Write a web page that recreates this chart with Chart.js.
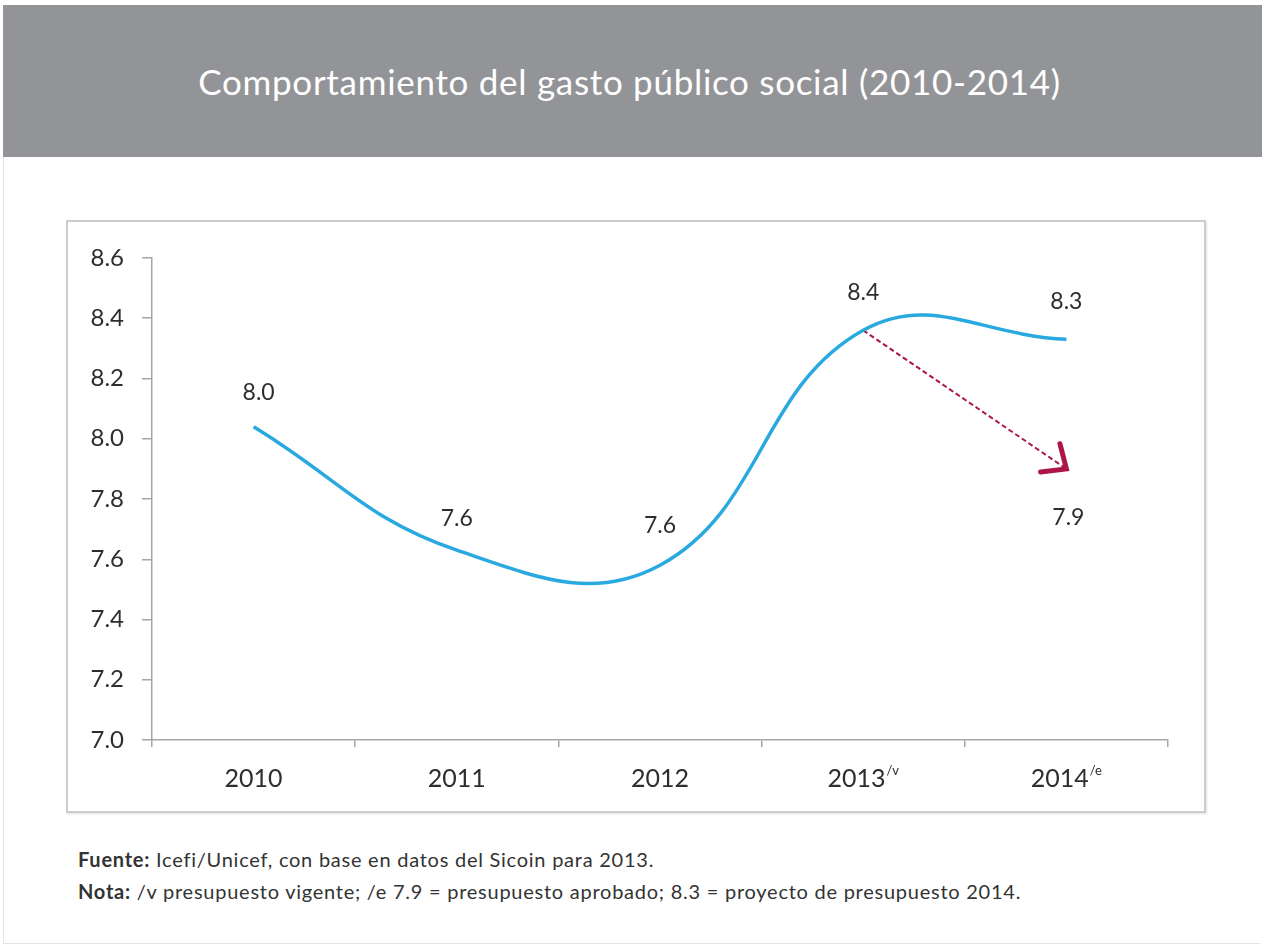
<!DOCTYPE html>
<html lang="es">
<head>
<meta charset="utf-8">
<title>Comportamiento del gasto público social (2010-2014)</title>
<script src="https://cdn.jsdelivr.net/npm/chart.js@4"></script>
<style>
    html, body {
        margin: 0;
        padding: 0;
        background: #ffffff;
    }
    body {
        width: 1262px;
        height: 947px;
        position: relative;
        overflow: hidden;
        font-family: Lato, "Open Sans", sans-serif;
    }
    .page {
        position: absolute;
        left: 3px;
        top: 5px;
        width: 1257px;
        height: 939px;
        border-left: 1px solid #e4e4e4;
        border-bottom: 1px solid #e4e4e4;
        box-sizing: border-box;
    }
    .header {
        position: absolute;
        left: 3px;
        top: 5px;
        width: 1259px;
        height: 152px;
        background: #939497;
        color: #ffffff;
        font-size: 35px;
        letter-spacing: 0.7px;
        line-height: 152px;
        text-align: center;
        box-sizing: border-box;
        padding-right: 6px;
    }
    .chart-box {
        position: absolute;
        left: 66px;
        top: 220px;
        width: 1140px;
        height: 593px;
        border: 2px solid #cdcdcd;
        box-sizing: border-box;
        box-shadow: 1px 1px 2px rgba(0, 0, 0, 0.12);
    }
    .chart-box canvas {
        position: absolute;
        left: 0;
        top: 0;
    }
    .notes {
        position: absolute;
        left: 78px;
        top: 843px;
        font-size: 20px;
        letter-spacing: 0.75px;
        line-height: 32px;
        color: #333333;
    }
</style>
</head>
<body>
<div class="page"></div>
<div class="header">Comportamiento del gasto público social (2010-2014)</div>
<div class="chart-box">
    <canvas id="gastoChart" width="1136" height="589"></canvas>
</div>
<div class="notes">
    <div><b>Fuente:</b> Icefi/Unicef, con base en datos del Sicoin para 2013.</div>
    <div><b>Nota:</b> /v presupuesto vigente; /e 7.9 = presupuesto aprobado; 8.3 = proyecto de presupuesto 2014.</div>
</div>

<script>
// años y sus marcas (/v vigente, /e estimado)
const years = ['2010', '2011', '2012', '2013', '2014'];
const yearMarks = ['', '', '', '/v', '/e'];

// gasto público social, % del PIB
const gastoSocial = [8.04, 7.63, 7.58, 8.36, 8.33];
// presupuesto aprobado 2014 (flecha desde 2013)
const presupuestoAprobado = [null, null, null, 8.36, 7.90];

const yTicks = [7.0, 7.2, 7.4, 7.6, 7.8, 8.0, 8.2, 8.4, 8.6];

const textColor = '#2e2e2e';
const axisColor = '#a6a6a6';
const lineColor = '#2aa9e0';
const arrowColor = '#ad1548';

// etiquetas de valor sobre cada punto, y la del presupuesto aprobado debajo de la flecha
const valueLabels = {
    id: 'valueLabels',
    afterDatasetsDraw(chart) {
        const ctx = chart.ctx;
        const x = chart.scales.x;
        const y = chart.scales.y;
        const offsets = [-34, -32, -40, -38, -38];
        ctx.save();
        ctx.font = '23px Lato, "Open Sans", sans-serif';
        ctx.fillStyle = textColor;
        ctx.textAlign = 'center';
        ctx.textBaseline = 'middle';
        gastoSocial.forEach((v, i) => {
            const px = x.getPixelForValue(i);
            const py = y.getPixelForValue(v);
            ctx.fillText(v.toFixed(1), px + (i === 0 ? 5 : 0), py + offsets[i]);
        });
        const last = presupuestoAprobado.length - 1;
        const tx = x.getPixelForValue(last);
        const ty = y.getPixelForValue(presupuestoAprobado[last]);
        ctx.fillText(presupuestoAprobado[last].toFixed(1), tx + 2, ty + 49);
        ctx.restore();
    }
};

// punta de flecha al final de la línea discontinua
const arrowHead = {
    id: 'arrowHead',
    afterDatasetsDraw(chart) {
        const meta = chart.getDatasetMeta(1);
        const pts = meta.data.filter(p => !p.skip);
        if (pts.length < 2) return;
        const a = pts[pts.length - 2];
        const b = pts[pts.length - 1];
        const ang = Math.atan2(b.y - a.y, b.x - a.x);
        const len = 26;
        const spread = 0.72;
        const ctx = chart.ctx;
        ctx.save();
        ctx.strokeStyle = arrowColor;
        ctx.lineWidth = 5;
        ctx.lineCap = 'round';
        ctx.lineJoin = 'miter';
        ctx.beginPath();
        ctx.moveTo(b.x - len * Math.cos(ang - spread), b.y - len * Math.sin(ang - spread));
        ctx.lineTo(b.x, b.y);
        ctx.lineTo(b.x - len * Math.cos(ang + spread), b.y - len * Math.sin(ang + spread));
        ctx.stroke();
        ctx.restore();
    }
};

// etiquetas del eje x con superíndice
const yearLabels = {
    id: 'yearLabels',
    afterDraw(chart) {
        const ctx = chart.ctx;
        const x = chart.scales.x;
        const baseY = x.top + 39;
        ctx.save();
        ctx.fillStyle = textColor;
        ctx.textBaseline = 'middle';
        years.forEach((yr, i) => {
            const mainFont = '25px Lato, "Open Sans", sans-serif';
            const supFont = '13px Lato, "Open Sans", sans-serif';
            ctx.font = mainFont;
            const w1 = ctx.measureText(yr).width;
            ctx.font = supFont;
            const w2 = yearMarks[i] ? ctx.measureText(yearMarks[i]).width + 1 : 0;
            const start = x.getPixelForValue(i) - (w1 + w2) / 2;
            ctx.textAlign = 'left';
            ctx.font = mainFont;
            ctx.fillText(yr, start, baseY);
            if (yearMarks[i]) {
                ctx.font = supFont;
                ctx.fillText(yearMarks[i], start + w1 + 1, baseY - 8);
            }
        });
        ctx.restore();
    }
};

const ctx = document.getElementById('gastoChart').getContext('2d');

const gastoChart = new Chart(ctx, {
    type: 'line',
    data: {
        labels: years,
        datasets: [{
            label: 'Gasto público social',
            data: gastoSocial,
            borderColor: lineColor,
            borderWidth: 3.5,
            tension: 0.42,
            pointRadius: 0,
            fill: false
        }, {
            label: 'Presupuesto aprobado',
            data: presupuestoAprobado,
            borderColor: arrowColor,
            borderWidth: 2,
            borderDash: [5, 3],
            tension: 0,
            pointRadius: 0,
            spanGaps: false,
            fill: false
        }]
    },
    options: {
        responsive: false,
        animation: false,
        layout: {
            padding: { top: 36, right: 36, bottom: 20, left: 0 }
        },
        plugins: {
            legend: { display: false },
            title: { display: false },
            tooltip: { enabled: false }
        },
        scales: {
            x: {
                offset: true,
                grid: {
                    display: true,
                    offset: true,
                    drawOnChartArea: false,
                    drawTicks: true,
                    tickLength: 7,
                    color: axisColor,
                    lineWidth: 1.5
                },
                border: { color: axisColor, width: 1.5 },
                ticks: {
                    color: 'rgba(0,0,0,0)',
                    font: { size: 25, family: 'Lato' }
                },
                afterFit(scale) {
                    scale.height = 51;
                }
            },
            y: {
                min: 7.0,
                max: 8.6,
                afterBuildTicks(scale) {
                    scale.ticks = yTicks.map(v => ({ value: v }));
                },
                grid: {
                    display: true,
                    drawOnChartArea: false,
                    drawTicks: true,
                    tickLength: 10,
                    color: axisColor,
                    lineWidth: 1.5
                },
                border: { color: axisColor, width: 1.5 },
                ticks: {
                    color: textColor,
                    padding: 18,
                    font: { size: 24, family: 'Lato' },
                    callback: v => Number(v).toFixed(1)
                },
                afterFit(scale) {
                    scale.width = 84;
                }
            }
        }
    },
    plugins: [valueLabels, arrowHead, yearLabels]
});
</script>
</body>
</html>
